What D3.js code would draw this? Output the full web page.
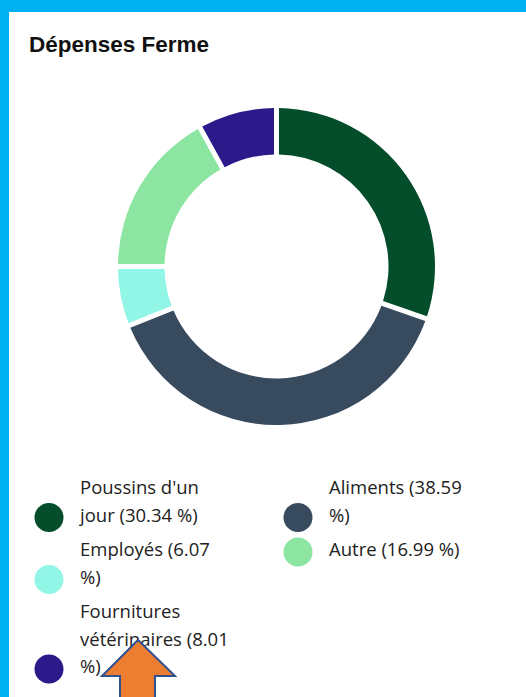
<!DOCTYPE html>
<html><head><meta charset="utf-8">
<script src="https://cdn.jsdelivr.net/npm/d3@7"></script>
<style>
html,body{margin:0;padding:0;background:#00B0F0;}
svg{display:block;}
</style></head>
<body>
<svg id="chart" width="526" height="697"></svg>
<script>
const title = "Dépenses Ferme";
const categories = ["Poussins d'un jour", "Aliments", "Employés", "Autre", "Fournitures vétérinaires"];
const values = [30.34, 38.59, 6.07, 16.99, 8.01];
const colors = ["#034d2b", "#384a5e", "#92f6e7", "#8de5a2", "#2c1a8b"];
// legend label lines as wrapped in the reference
const legendLines = [
  ["Poussins d'un", "jour (30.34 %)"],
  ["Aliments (38.59", "%)"],
  ["Employés (6.07", "%)"],
  ["Autre (16.99 %)"],
  ["Fournitures", "vétérinaires (8.01", "%)"]
];

const svg = d3.select("#chart");
const W = 526, H = 697;

// card
svg.append("rect").attr("x", 9).attr("y", 12).attr("width", W - 9).attr("height", H - 12).attr("fill", "#fff");

svg.append("text").attr("x", 29).attr("y", 52)
  .attr("font-family", "Liberation Sans, Arial, sans-serif")
  .attr("font-weight", "bold").attr("font-size", 22.5).attr("fill", "#111")
  .text(title);

// donut
const cx = 276.5, cy = 266.5, rOuter = 158.5, rInner = 112;
const pie = d3.pie().sort(null).value(d => d)(values);
const arc = d3.arc().innerRadius(rInner).outerRadius(rOuter)
  .padAngle(5 / rOuter).padRadius(rOuter);
svg.append("g").attr("transform", `translate(${cx},${cy})`)
  .selectAll("path").data(pie).join("path")
  .attr("d", arc).attr("fill", (d, i) => colors[i]);

// legend
const fontFam = "'Open Sans', 'Noto Sans', sans-serif";
const fontSize = 18.5;
const lineH = 27.5;
const colX = [49, 298];
const rowTop = [488, 550, 612];
const lg = svg.append("g");

categories.forEach((c, idx) => {
  const col = idx % 2, row = Math.floor(idx / 2);
  const lines = legendLines[idx];
  const y0 = rowTop[row];
  const g = lg.append("g");
  lines.forEach((ln, j) => {
    g.append("text").attr("x", colX[col] + 31).attr("y", y0 + j * lineH)
      .attr("dy", "0.35em")
      .attr("font-family", fontFam).attr("font-size", fontSize).attr("fill", "#222")
      .text(ln);
  });
  g.append("circle").attr("cx", colX[col]).attr("cy", y0 + (lines.length - 1) * lineH + 2)
    .attr("r", 14.5).attr("fill", colors[idx]);
});

// orange arrow annotation
const arrow = [[138, 640], [175, 676], [155, 676], [155, 700], [120, 700], [120, 676], [102, 676]];
svg.append("path").attr("d", d3.line()(arrow) + "Z")
  .attr("fill", "#ED7D31").attr("stroke", "#2F528F").attr("stroke-width", 2).attr("stroke-linejoin", "miter");
</script>
</body></html>
